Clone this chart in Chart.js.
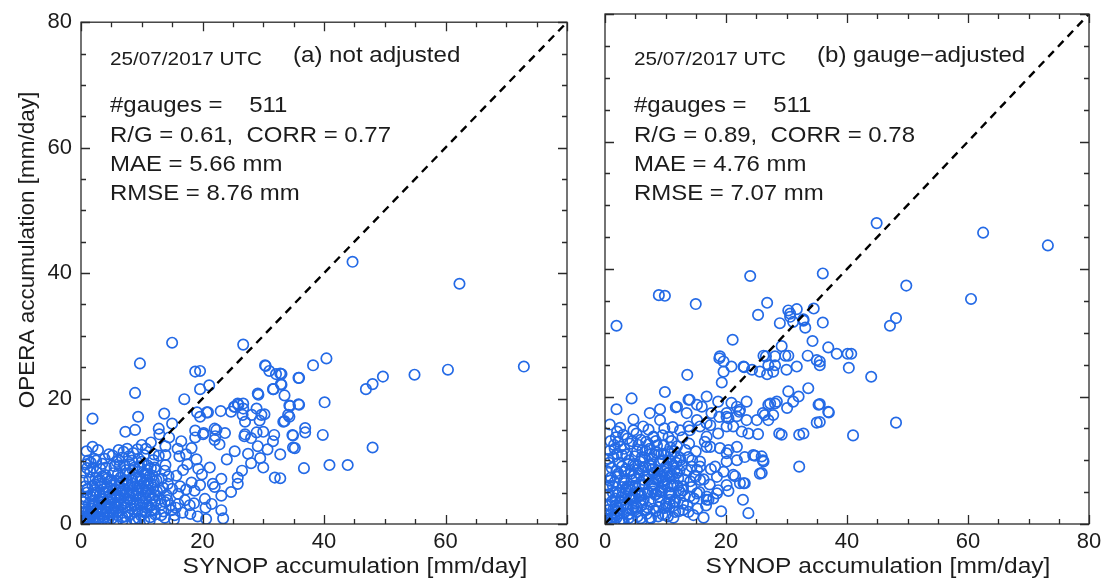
<!DOCTYPE html>
<html><head><meta charset="utf-8">
<script src="https://cdn.jsdelivr.net/npm/chart.js@4.4.1/dist/chart.umd.min.js"></script>
<style>
html,body{margin:0;padding:0;background:#fff;}
#wrap{position:relative;width:1112px;height:585px;background:#fff;overflow:hidden;}
#wrap canvas{position:absolute;left:0;top:0;}
</style></head><body>
<div id="wrap"><canvas id="cA" width="1112" height="585"></canvas><canvas id="cB" width="1112" height="585"></canvas></div>
<script>
const axisRange = [0, 80];
const tickStep = 20;
const minorStep = 5;
const xTitle = 'SYNOP accumulation [mm/day]';
const yTitle = 'OPERA accumulation [mm/day]';
const dateLabel = '25/07/2017 UTC';
const panelTags = ['(a) not adjusted', '(b) gauge\u2212adjusted'];
const statsA = ['#gauges =    511', 'R/G = 0.61,  CORR = 0.77', 'MAE = 5.66 mm', 'RMSE = 8.76 mm'];
const statsB = ['#gauges =    511', 'R/G = 0.89,  CORR = 0.78', 'MAE = 4.76 mm', 'RMSE = 7.07 mm'];

// (a) not adjusted: [SYNOP, OPERA]
const pointsA = [
[44.7,41.8],[62.3,38.3],[72.9,25.1],[60.4,24.6],[54.9,23.8],[49.7,23.5],[48.0,22.3],[46.9,21.5],[40.4,26.4],[38.2,25.3],
[35.9,23.3],[33.0,23.9],[33.0,22.2],[33.5,20.5],[40.1,19.4],[35.9,19.0],[34.4,18.8],[34.3,17.1],[33.5,16.4],[36.9,15.3],
[36.9,14.6],[34.9,14.1],[39.8,14.2],[34.9,12.2],[35.2,12.1],[32.8,11.1],[48.0,12.2],[36.7,8.9],[40.9,9.4],[43.9,9.4],[32.8,7.3],
[26.7,28.6],[30.3,25.3],[30.4,25.2],[31.0,24.4],[32.8,24.0],[35.8,23.3],[32.9,22.3],[31.7,21.5],[21.1,22.1],[19.6,21.5],
[19.6,24.4],[29.2,20.6],[34.3,18.9],[35.8,19.1],[23.0,18.0],[25.2,18.7],[25.9,19.0],[26.7,19.2],[28.9,18.4],[26.6,17.4],
[28.1,17.4],[29.7,17.4],[30.2,17.5],[34.1,17.4],[33.3,16.3],[27.0,16.3],[29.4,16.5],[20.7,17.8],[19.6,17.1],[22.3,15.0],
[23.7,14.5],[22.1,14.0],[20.1,14.3],[27.0,14.3],[28.9,14.6],[31.8,14.2],[34.8,14.2],
[15.0,28.9],[9.7,25.6],[18.8,24.3],[8.9,20.9],[17.0,19.9],[1.9,16.8],[9.4,17.1],[13.7,17.6],[15.0,16.0],[19.1,17.8],
[20.9,17.8],[7.3,14.7],[8.9,15.0],[12.9,14.3],[18.8,14.9],[20.2,14.5],[18.8,13.8],[22.0,15.2],[22.0,13.4],[22.8,12.7],
[1.9,12.3],[15.9,12.0],[18.2,12.1],[17.3,11.1],[16.2,10.8],[13.9,12.4],[13.9,11.0],[12.0,11.1],[25.3,11.6],[28.0,9.7],
[30.0,9.0],[31.9,7.4],[25.8,7.4],[25.8,6.4],[23.1,7.2],[21.2,9.0],[19.9,7.9],[18.2,6.6],[18.7,5.3],[21.7,6.4],
[22.0,5.9],[23.1,4.5],[20.4,4.0],[18.6,3.3],[16.0,3.2],[14.2,3.8],[23.1,2.2],[23.4,0.9],[24.7,5.1],[29.1,20.8],
[31.6,21.5],[32.1,23.9],[30.0,14.7],[31.6,13.2],[28.0,13.7],[26.9,14.0],[29.1,12.4],[30.7,11.9],[25.8,19.2],[26.7,18.4],
[25.3,18.7],[24.7,17.9],
[12.1,9.0],[13.8,8.5],[15.7,7.7],[14.3,6.4],[13.0,5.3],[16.0,4.8],[17.1,3.8],[13.8,3.5],[12.1,2.2],[14.9,2.2],
[13.2,1.4],[15.4,1.4],[10.2,3.2],[11.0,6.4],[10.8,8.0],[17.5,9.5],[19.0,10.3],[16.8,8.6],[18.0,1.6],[20.5,2.6],
[19.3,8.8],[24.0,10.3],[26.5,8.5],[27.5,11.2],[29.5,10.5],[16.5,13.2],[14.5,13.8],[11.5,13.0],[10.0,12.6],[12.8,15.2],
[0.3,0.5],[0.6,1.2],[0.9,0.3],[1.2,2.1],[1.5,0.8],[1.8,3.0],[2.1,1.5],[2.4,0.4],[2.7,2.6],[3.0,1.1],
[3.3,4.0],[3.6,0.7],[3.9,2.9],[4.2,1.8],[4.5,5.2],[4.8,3.4],[5.1,0.9],[5.4,2.3],[5.7,4.6],[6.0,1.4],
[6.3,6.1],[6.6,3.1],[6.9,0.6],[7.2,2.7],[7.5,5.0],[7.8,1.9],[8.1,3.8],[8.4,7.0],[8.7,0.8],[9.0,4.4],
[9.3,2.2],[9.6,6.0],[9.9,1.3],[10.2,3.5],[10.5,8.0],[10.8,2.6],[11.1,5.4],[11.4,1.1],[11.7,4.1],[12.0,6.8],
[0.5,2.8],[0.8,4.2],[1.1,5.6],[1.4,7.1],[1.7,1.3],[2.0,4.6],[2.3,6.3],[2.6,8.3],[2.9,3.6],[3.2,5.9],
[3.5,7.6],[3.8,1.5],[4.1,9.0],[4.4,3.9],[4.7,6.8],[5.0,2.1],[5.3,8.1],[5.6,5.5],[5.9,9.9],[6.2,3.8],
[6.5,7.4],[6.8,10.6],[7.1,4.5],[7.4,8.6],[7.7,6.2],[8.0,9.5],[8.3,5.1],[8.6,11.3],[8.9,3.0],[9.2,8.3],
[9.5,10.4],[9.8,7.2],[10.1,5.6],[10.4,11.0],[10.7,4.0],[11.0,9.3],[11.3,7.6],[11.6,3.1],[11.9,10.2],[12.3,8.6],
[0.2,1.7],[0.4,3.5],[0.7,6.0],[1.0,8.9],[1.3,0.2],[1.6,9.8],[1.9,2.4],[2.2,10.4],[2.5,5.0],[2.8,0.9],
[3.1,7.0],[3.4,2.3],[3.7,5.1],[4.0,0.3],[4.3,7.2],[4.6,1.0],[4.9,4.7],[5.2,10.9],[5.5,3.3],[5.8,6.9],
[6.1,2.6],[6.4,9.3],[6.7,5.2],[7.0,11.5],[7.3,1.2],[7.6,3.6],[7.9,10.8],[8.2,2.5],[8.5,6.4],[8.8,9.0],
[9.1,0.4],[9.4,4.9],[9.7,3.1],[10.0,9.9],[10.3,6.5],[10.6,1.8],[10.9,7.0],[11.2,2.7],[11.5,8.9],[12.5,5.2],
[13.0,4.0],[13.3,7.2],[13.6,2.0],[13.9,9.4],[12.8,10.9],[12.2,1.5],[6.0,4.3],[5.0,6.2],[4.0,4.9],[3.0,3.2],
[2.0,2.0],[1.0,1.0],[7.0,7.0],[8.0,8.0],[3.5,9.6],[2.4,7.3],[1.2,10.1],[0.9,11.6],[2.8,11.8],[4.6,11.1],
[6.2,11.8],[7.6,12.0],[9.3,11.9],[10.7,12.0],
[0.4,0.9],[0.8,2.0],[1.1,0.6],[1.4,1.6],[1.7,2.5],[2.0,0.9],[2.3,3.3],[2.6,1.8],[2.9,0.5],[3.2,2.2],
[3.5,3.5],[3.8,1.0],[4.1,2.6],[4.4,0.5],[4.7,1.5],[5.0,4.0],[5.3,1.7],[5.6,3.0],[5.9,0.4],[6.2,2.1],
[6.5,4.2],[6.8,1.1],[7.1,3.3],[7.4,0.3],[7.7,4.0],[8.0,1.4],[8.3,2.9],[8.6,4.8],[8.9,1.9],[9.2,3.1],
[9.5,0.9],[9.8,4.2],[10.1,2.0],[10.4,0.6],[10.7,5.2],[11.0,3.0],[11.3,0.5],[11.6,2.2],[11.9,5.8],[12.2,3.6],
[0.6,3.9],[1.0,5.0],[1.3,3.2],[1.6,4.4],[1.9,6.1],[2.2,5.4],[2.5,2.2],[2.8,6.9],[3.1,4.6],[3.4,6.5],
[3.7,3.9],[4.0,7.8],[4.3,5.9],[4.6,2.8],[4.9,7.0],[5.2,5.3],[5.5,6.4],[5.8,2.8],[6.1,8.0],[6.4,4.9],
[6.7,6.7],[7.0,5.6],[7.3,8.0],[7.6,6.9],[7.9,4.6],[8.2,5.9],[8.5,8.6],[8.8,6.0],[9.1,7.3],[9.4,5.4],
[9.7,9.0],[10.0,7.0],[10.3,4.6],[10.6,6.1],[10.9,8.6],[11.2,4.5],[11.5,6.4],[11.8,7.7],[12.1,4.6],[12.4,7.0],
[13.2,3.1],[13.5,5.8],[13.8,1.0],[14.1,4.6],[14.4,7.6],[14.7,3.0],[15.0,5.6],[15.3,0.7],[15.6,2.6],[16.3,6.0],
[16.7,1.8],[17.3,5.5],[17.9,3.0],[19.2,1.2],[19.6,6.2],[20.6,0.8],[21.5,3.2],[0.3,6.9],[0.5,8.2],[0.8,9.5],
[1.5,8.3],[2.0,9.0],[2.5,10.1],[3.2,8.8],[3.9,10.4],[5.5,9.2],[6.2,10.2],[7.2,9.4],[8.4,10.1],[9.6,9.2]
];

// (b) gauge-adjusted: [SYNOP, OPERA]
const pointsB = [
[44.9,47.2],[62.5,45.7],[73.2,43.7],[36.0,39.3],[49.8,37.4],[60.5,35.3],[36.0,31.6],[48.1,32.3],[47.1,31.1],[36.9,27.7],
[38.3,26.7],[40.1,26.7],[40.7,26.7],[40.3,24.5],[44.0,23.1],[35.5,25.5],[35.5,24.9],[35.5,18.8],[36.9,17.6],[37.0,17.5],
[35.5,16.0],[48.1,15.9],[41.0,13.9],
[8.9,35.9],[9.9,35.8],[15.0,34.5],[1.9,31.1],[26.8,34.7],[25.3,32.8],[30.3,33.5],[31.7,33.7],[34.5,33.8],[30.6,32.5],
[31.1,31.7],[32.8,32.1],[33.1,30.8],[28.9,31.5],[21.1,28.9],[29.2,27.9],[29.8,26.4],[30.3,26.4],[34.3,28.7],[33.5,26.4],
[35.0,25.7],[26.6,26.3],[27.0,24.9],[25.6,23.9],[26.8,23.5],[28.1,24.9],[18.9,26.0],[19.6,25.5],[20.9,24.7],[23.0,24.6],
[24.3,24.2],[19.6,23.9],[19.3,22.2],[13.6,23.4],[9.9,20.7],[4.4,19.7],[1.9,18.0],[0.8,15.6],[30.3,20.8],[32.0,20.0],
[31.1,19.2],[33.6,21.3],[35.3,18.7],[35.0,15.9],[28.1,18.9],[27.0,18.7],[26.1,17.4],[27.8,17.1],[27.0,16.3],[28.8,14.2],
[29.2,14.0],[32.1,14.0],[32.8,14.2],[32.1,9.0],[23.7,14.2],[25.3,14.1],[22.2,17.6],[21.8,18.4],[20.1,16.8],[18.9,16.8],
[17.6,17.4],[16.8,15.8],[16.0,18.4],[14.0,19.5],[13.5,17.4],[15.2,16.3],[11.9,18.4],[24.5,10.8],[25.9,10.6],[26.1,10.0],
[25.9,8.0],[22.9,6.4],[23.7,1.7],[22.8,3.8],[21.5,7.5],[20.4,5.2],[18.5,4.8],[17.1,3.8],[21.2,15.3],[22.6,14.5],
[20.4,16.6],[16.8,12.1],[19.0,11.9],[20.1,11.1],[15.2,8.5],[15.7,6.9],[12.9,5.9],[14.0,4.3],[10.7,4.8],[10.2,2.7],
[12.9,2.2],[16.8,4.3],[24.0,38.9],[30.6,33.0],[32.8,31.9],[28.1,26.3],[19.0,26.3],
[11.7,18.3],[9.1,18.0],[7.4,17.4],[4.7,16.4],[1.8,13.6],[4.7,14.7],[6.3,15.3],[8.0,13.7],[9.1,16.3],[13.8,19.5],
[15.2,18.7],[16.8,20.0],[18.7,19.2],[13.8,15.3],[12.4,14.7],[14.0,14.7],[15.7,15.3],[17.4,15.5],[16.8,13.7],[18.7,14.2],
[20.1,15.3],[21.8,16.9],[23.4,16.3],[22.3,17.9],[20.9,19.0],[20.1,17.4],[23.4,19.2],[25.1,16.3],[26.4,17.1],[27.3,18.9],
[28.4,19.2],[30.1,18.2],[22.9,24.7],[26.2,26.4],[27.8,23.9],[30.0,24.2],[31.7,24.7],
[17.4,12.1],[20.4,11.6],[21.8,12.1],[23.1,10.5],[24.8,10.7],[26.2,9.8],[21.8,10.0],[20.1,9.8],[18.2,9.0],[15.7,9.8],
[13.8,10.5],[12.4,10.0],[12.7,9.2],[14.3,9.0],[15.7,9.0],[18.5,7.4],[21.2,7.7],[22.3,6.4],[23.1,6.4],[25.6,7.9],
[18.7,5.3],[16.8,3.8],[15.2,4.8],[12.9,5.3],[12.9,3.2],[10.7,3.2],[20.1,6.1],
[0.3,0.8],[0.6,2.2],[0.9,0.4],[1.2,3.6],[1.5,1.2],[1.8,5.0],[2.1,2.6],[2.4,0.6],[2.7,4.2],[3.0,1.7],
[3.3,6.4],[3.6,3.1],[3.9,0.9],[4.2,5.3],[4.5,2.2],[4.8,7.6],[5.1,4.0],[5.4,1.2],[5.7,6.2],[6.0,2.9],
[6.3,8.9],[6.6,4.8],[6.9,1.6],[7.2,7.0],[7.5,3.5],[7.8,10.2],[8.1,5.6],[8.4,2.0],[8.7,8.4],[9.0,4.3],
[9.3,11.0],[9.6,6.7],[9.9,2.5],[10.2,9.1],[10.5,5.0],[10.8,12.0],[11.1,7.6],[11.4,3.4],[11.7,10.4],[12.0,6.0],
[0.5,4.6],[0.8,6.8],[1.1,8.8],[1.4,10.5],[1.7,2.9],[2.0,7.4],[2.3,9.6],[2.6,12.1],[2.9,5.8],[3.2,8.2],
[3.5,10.9],[3.8,2.6],[4.1,12.6],[4.4,6.9],[4.7,9.4],[5.0,3.2],[5.3,11.4],[5.6,8.0],[5.9,13.2],[6.2,6.1],
[6.5,10.4],[6.8,12.9],[7.1,5.0],[7.4,11.8],[7.7,8.5],[8.0,13.6],[8.3,7.0],[8.6,12.3],[8.9,3.6],[9.2,9.8],
[9.5,13.9],[9.8,8.2],[10.1,6.9],[10.4,11.3],[10.7,3.8],[11.0,13.0],[11.3,9.2],[11.6,1.9],[11.9,12.2],[12.3,8.4],
[0.2,2.9],[0.4,5.7],[0.7,9.6],[1.0,0.2],[1.3,6.0],[1.6,11.8],[1.9,1.0],[2.2,12.9],[2.5,3.4],[2.8,10.8],
[3.1,0.3],[3.4,4.9],[3.7,13.4],[4.0,1.6],[4.3,8.3],[4.6,4.2],[4.9,10.6],[5.2,1.9],[5.5,5.0],[5.8,9.8],
[6.1,0.6],[6.4,3.8],[6.7,11.5],[7.0,2.6],[7.3,9.3],[7.6,0.9],[7.9,6.3],[8.2,10.9],[8.5,4.7],[8.8,1.2],
[9.1,7.5],[9.4,5.3],[9.7,12.4],[10.0,1.4],[10.3,7.9],[10.6,10.0],[10.9,5.9],[11.2,2.8],[11.5,11.4],[12.5,4.9],
[13.0,7.0],[13.3,11.6],[13.6,3.0],[13.9,12.6],[12.8,13.6],[12.2,2.0],[14.3,5.8],[14.6,1.4],[15.0,11.4],[14.8,7.6],
[16.3,1.0],[17.5,8.6],[16.5,12.9],[0.9,13.0],[3.0,14.0],[5.2,14.2],[7.2,14.8],[9.8,15.0],[11.2,15.2],[2.5,15.1],
[6.0,4.5],[4.0,5.9],[3.0,3.0],[2.0,2.0],[8.0,8.0],[1.0,1.5],
[0.4,1.4],[0.8,3.0],[1.1,1.0],[1.4,2.3],[1.7,4.0],[2.0,1.5],[2.3,4.9],[2.6,2.9],[2.9,0.8],[3.2,3.8],
[3.5,5.4],[3.8,1.5],[4.1,4.0],[4.4,0.7],[4.7,2.7],[5.0,5.9],[5.3,2.6],[5.6,4.4],[5.9,0.9],[6.2,3.4],
[6.5,6.2],[6.8,2.2],[7.1,4.9],[7.4,1.0],[7.7,6.0],[8.0,2.4],[8.3,4.6],[8.6,6.9],[8.9,2.6],[9.2,5.0],
[9.5,1.5],[9.8,6.2],[10.1,3.2],[10.4,1.2],[10.7,7.4],[11.0,4.6],[11.3,1.0],[11.6,3.6],[11.9,8.0],[12.2,5.3],
[0.6,6.0],[1.0,7.3],[1.3,4.9],[1.6,6.6],[1.9,8.3],[2.2,7.9],[2.5,3.6],[2.8,9.0],[3.1,6.8],[3.4,8.6],
[3.7,5.9],[4.0,10.0],[4.3,7.9],[4.6,4.5],[4.9,9.1],[5.2,7.2],[5.5,8.6],[5.8,4.4],[6.1,10.5],[6.4,6.9],
[6.7,8.9],[7.0,7.7],[7.3,10.9],[7.6,9.1],[7.9,5.1],[8.2,8.1],[8.5,11.2],[8.8,7.2],[9.1,9.9],[9.4,7.4],
[9.7,10.9],[10.0,8.9],[10.3,5.9],[10.6,8.1],[10.9,11.0],[11.2,6.2],[11.5,8.3],[11.8,9.6],[12.1,7.2],[12.4,10.4],
[13.2,4.4],[13.5,8.4],[13.8,1.9],[14.1,6.7],[14.4,10.0],[14.7,4.0],[15.0,7.4],[15.3,2.4],[15.6,5.0],[16.3,7.0],
[16.7,2.9],[17.3,6.2],[17.9,4.0],[19.2,2.0],[19.6,8.2],[0.3,8.3],[0.5,10.2],[0.8,11.5],[1.5,12.4],[2.0,11.0],
[3.2,11.8],[3.9,9.4],[5.5,12.4],[6.2,11.6],[7.2,12.5],[8.4,13.0],[9.6,10.0],[10.5,13.6],[4.5,13.0],[2.0,14.5]
];

const FONT = '"Liberation Sans", Arial, Helvetica, sans-serif';
const INK = '#1c1c1c';
const PT = 'rgb(36,106,230)';

function sText(ctx, txt, x, y, size, sx, align) {
  ctx.save();
  ctx.font = size + 'px ' + FONT;
  ctx.fillStyle = INK;
  ctx.textAlign = align || 'left';
  ctx.textBaseline = 'alphabetic';
  ctx.translate(x, y);
  ctx.scale(sx, 1);
  ctx.fillText(txt, 0, 0);
  ctx.restore();
}

const panelPlugin = {
  id: 'panel',
  afterDatasetsDraw(chart) {
    const ctx = chart.ctx, a = chart.chartArea;
    const xs = chart.scales.x, ys = chart.scales.y;
    ctx.save();
    ctx.strokeStyle = '#2a2a2a';
    ctx.lineWidth = 1.3;
    ctx.beginPath();
    for (let v = axisRange[0]; v <= axisRange[1]; v += minorStep) {
      const L = (v % tickStep === 0) ? 9 : 5;
      const px = Math.round(xs.getPixelForValue(v)) + 0.5;
      const py = Math.round(ys.getPixelForValue(v)) + 0.5;
      ctx.moveTo(px, a.bottom); ctx.lineTo(px, a.bottom - L);
      ctx.moveTo(px, a.top); ctx.lineTo(px, a.top + L);
      ctx.moveTo(a.left, py); ctx.lineTo(a.left + L, py);
      ctx.moveTo(a.right, py); ctx.lineTo(a.right - L, py);
    }
    ctx.stroke();
    ctx.strokeRect(a.left, a.top, a.right - a.left, a.bottom - a.top);
    ctx.restore();
  },
  afterDraw(chart, args, opts) {
    const ctx = chart.ctx, a = chart.chartArea;
    sText(ctx, dateLabel, a.left + 29, 65, 18.5, 1.12);
    sText(ctx, opts.tag, a.left + 212, 62, 21.5, 1.12);
    const base = [112, 141.5, 171, 200];
    opts.stats.forEach((s, i) => sText(ctx, s, a.left + 29, base[i], 21.4, 1.12));
    sText(ctx, xTitle, (a.left + a.right) / 2 + 31, 573, 22.5, 1.09, 'center');
    if (opts.showY) {
      ctx.save();
      ctx.font = '22.5px ' + FONT;
      ctx.fillStyle = INK;
      ctx.textAlign = 'center';
      ctx.textBaseline = 'middle';
      ctx.translate(28, 250);
      ctx.rotate(-Math.PI / 2);
      ctx.fillText(yTitle, 0, 0);
      ctx.restore();
    }
  }
};

function makeChart(id, points, stats, tag, showY) {
  return new Chart(document.getElementById(id), {
    type: 'scatter',
    data: {
      datasets: [
        { type: 'line', data: axisRange.map(v => ({ x: v, y: v })), borderColor: '#000', borderWidth: 2.4,
          borderDash: [8, 6], pointRadius: 0, fill: false, order: 0 },
        { data: points.map(p => ({ x: p[0], y: p[1] })), pointRadius: 5.2, pointBorderWidth: 1.7,
          pointBorderColor: PT, pointBackgroundColor: 'rgba(0,0,0,0)', borderColor: PT, showLine: false, order: 1 }
      ]
    },
    options: {
      responsive: false, animation: false, devicePixelRatio: 1,
      layout: { padding: showY ? { left: 0, top: 14, right: 545, bottom: 0 } : { left: 0, top: 14, right: 23, bottom: 0 } },
      plugins: { legend: { display: false }, tooltip: { enabled: false },
        panel: { tag: tag, stats: stats, showY: showY } },
      scales: {
        x: { type: 'linear', min: axisRange[0], max: axisRange[1],
          ticks: { stepSize: tickStep, font: { size: 22, family: FONT }, color: INK, padding: 5, maxRotation: 0 },
          grid: { display: false, drawTicks: false }, border: { display: false },
          afterFit(s) { s.height = 61; } },
        y: { type: 'linear', min: axisRange[0], max: axisRange[1],
          ticks: { display: showY, stepSize: tickStep, font: { size: 22, family: FONT }, color: INK, padding: 9 },
          grid: { display: false, drawTicks: false }, border: { display: false },
          afterFit(s) { s.width = showY ? 81 : 605; } }
      }
    },
    plugins: [panelPlugin]
  });
}

makeChart('cA', pointsA, statsA, panelTags[0], true);
makeChart('cB', pointsB, statsB, panelTags[1], false);
</script>
</body></html>
